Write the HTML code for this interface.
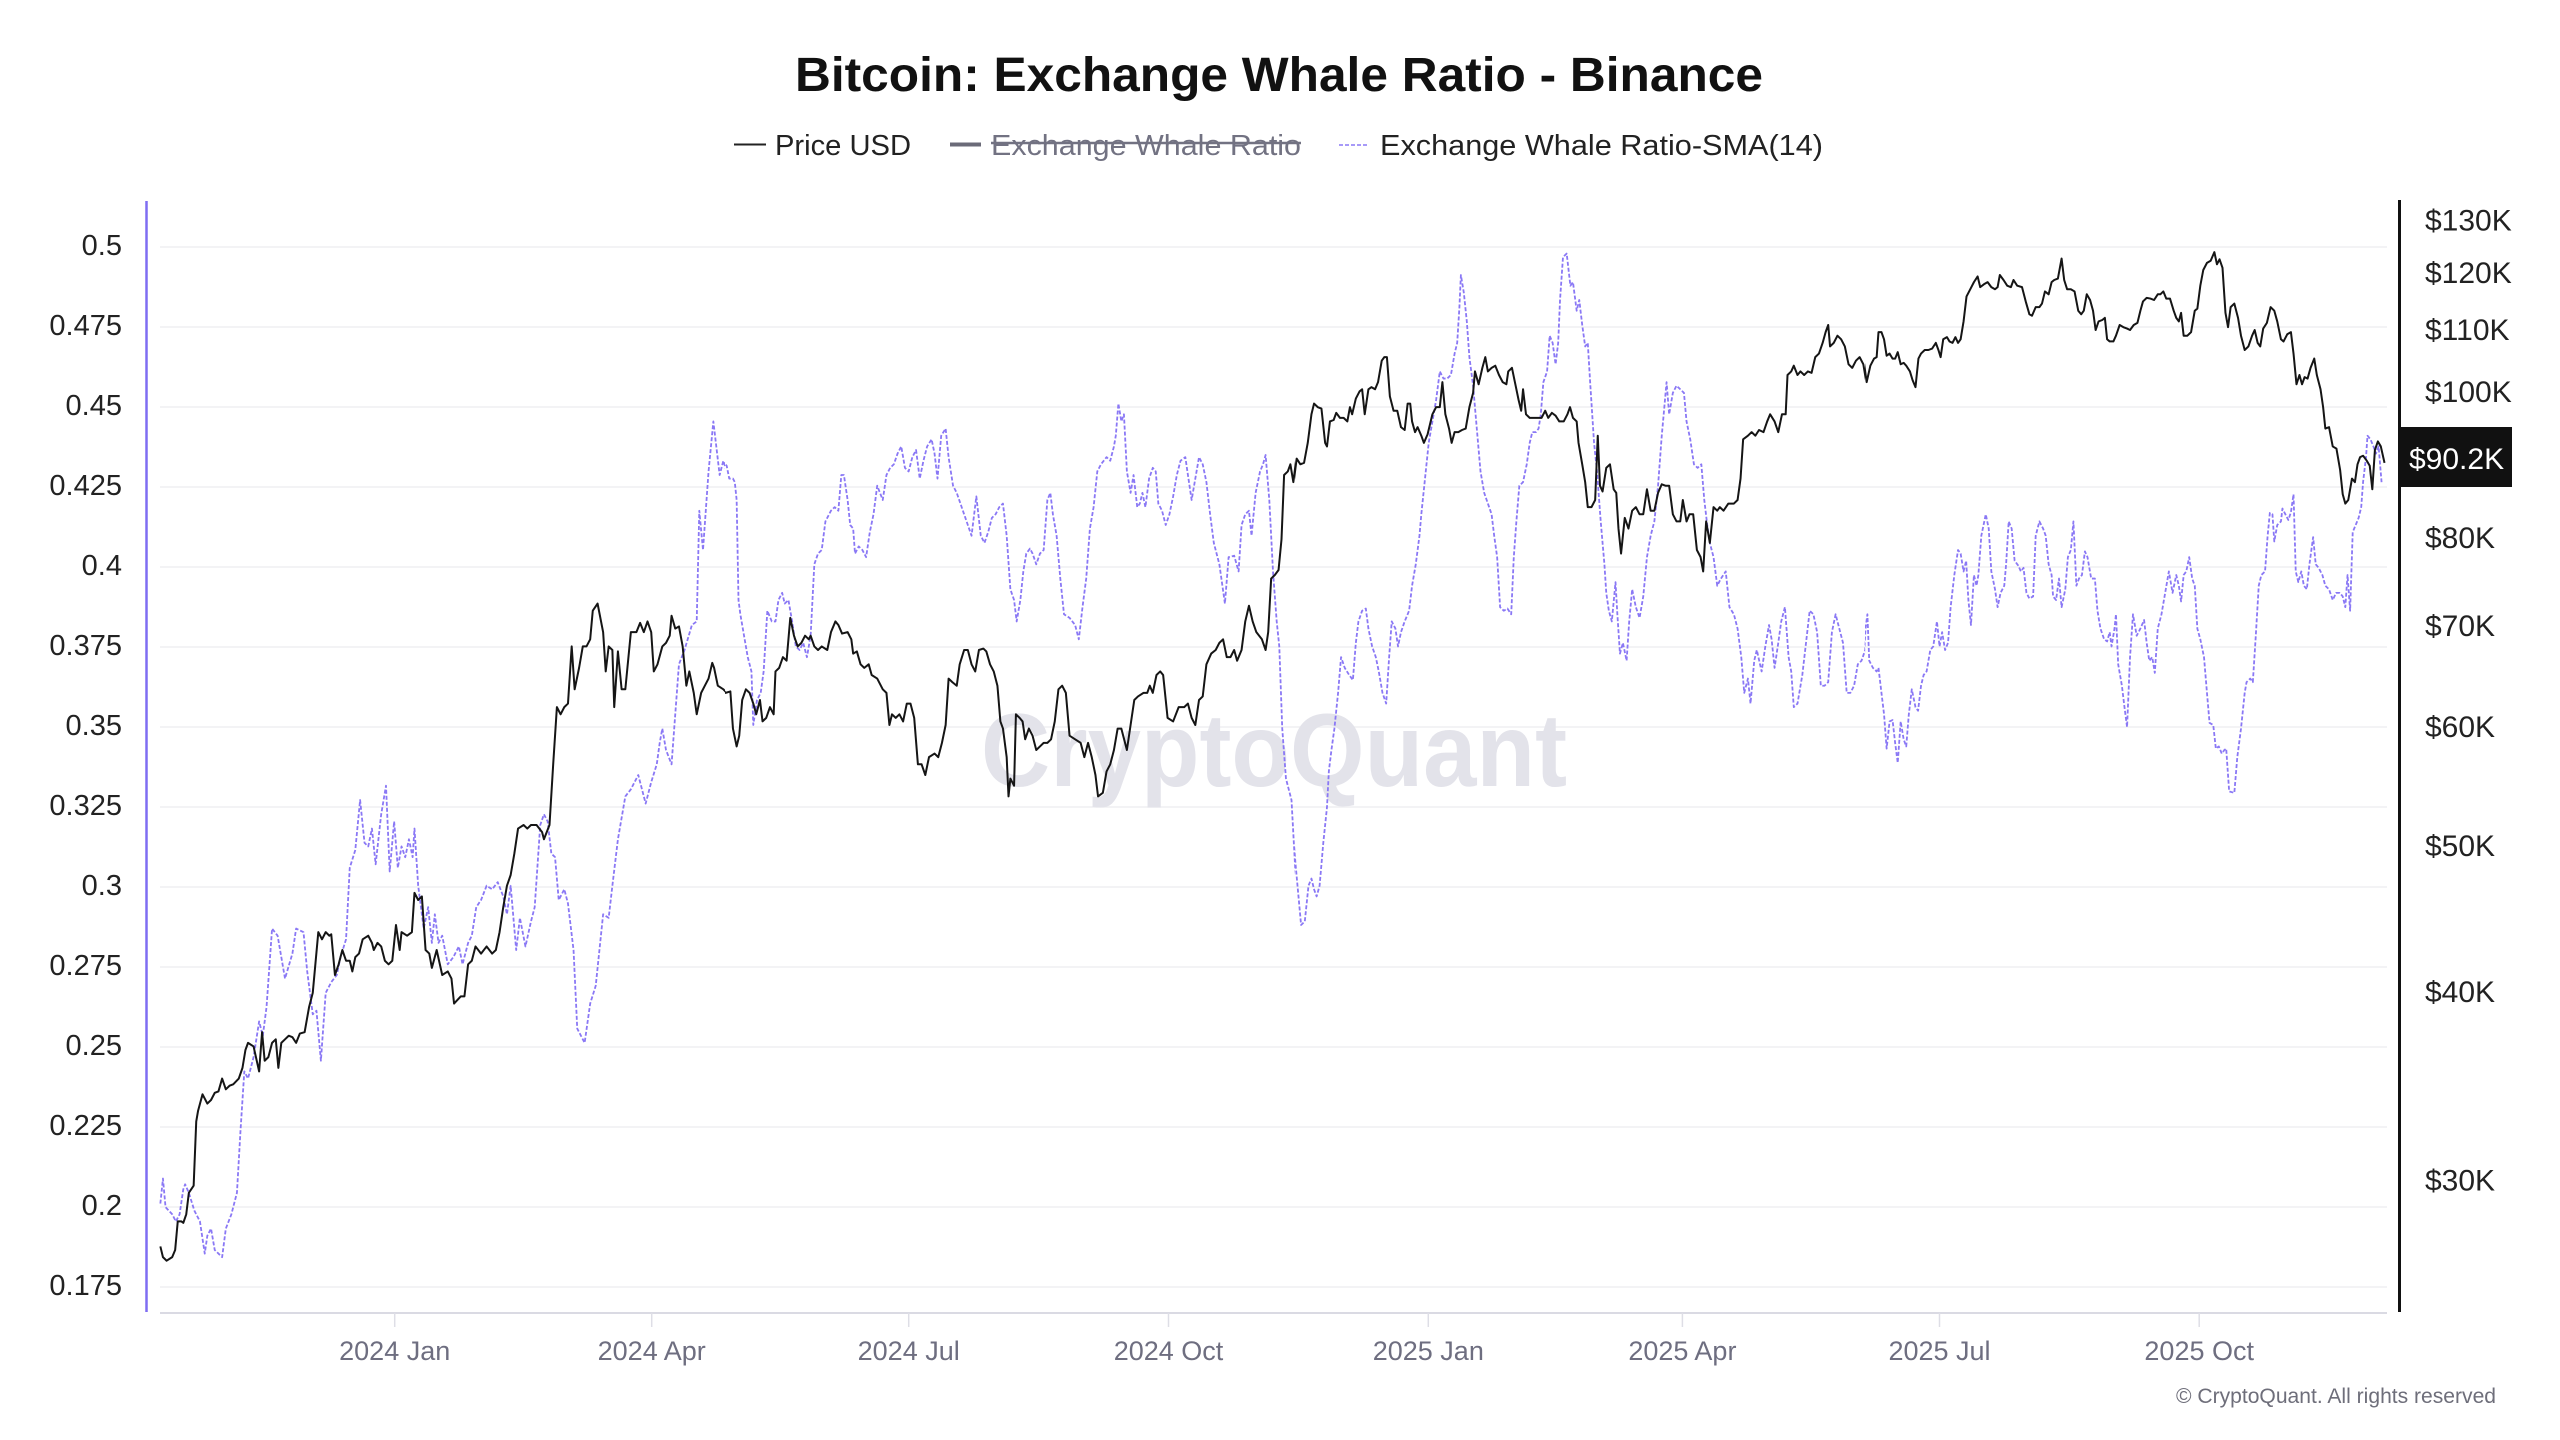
<!DOCTYPE html>
<html>
<head>
<meta charset="utf-8">
<style>
  html, body { margin: 0; padding: 0; background: #ffffff; }
  svg { display: block; }
  text { font-family: "Liberation Sans", "DejaVu Sans", sans-serif; }
</style>
</head>
<body>
<svg width="2560" height="1440" viewBox="0 0 2560 1440" xmlns="http://www.w3.org/2000/svg">
  <rect x="0" y="0" width="2560" height="1440" fill="#ffffff"/>

  <!-- Title -->
  <text x="1279" y="91" text-anchor="middle" font-size="48" font-weight="bold" fill="#111111" textLength="968" lengthAdjust="spacingAndGlyphs">Bitcoin: Exchange Whale Ratio - Binance</text>

  <!-- Legend -->
  <line x1="734" y1="144.5" x2="766" y2="144.5" stroke="#222" stroke-width="2"/>
  <text x="775" y="155" font-size="29" fill="#222" textLength="136" lengthAdjust="spacingAndGlyphs">Price USD</text>
  <line x1="950" y1="144.5" x2="981" y2="144.5" stroke="#6b6b78" stroke-width="4"/>
  <text x="991" y="155" font-size="29" fill="#727282" textLength="310" lengthAdjust="spacingAndGlyphs">Exchange Whale Ratio</text>
  <line x1="991" y1="143" x2="1301" y2="143" stroke="#727282" stroke-width="2.5"/>
  <line x1="1339" y1="145" x2="1369" y2="145" stroke="#8a78f5" stroke-width="1.6" stroke-dasharray="4 2"/>
  <text x="1380" y="155" font-size="29" fill="#222" textLength="443" lengthAdjust="spacingAndGlyphs">Exchange Whale Ratio-SMA(14)</text>

  <!-- Gridlines -->
  <g stroke="#efeff2" stroke-width="1.6">
    <line x1="160" y1="247" x2="2387" y2="247"/>
    <line x1="160" y1="327" x2="2387" y2="327"/>
    <line x1="160" y1="407" x2="2387" y2="407"/>
    <line x1="160" y1="487" x2="2387" y2="487"/>
    <line x1="160" y1="567" x2="2387" y2="567"/>
    <line x1="160" y1="647" x2="2387" y2="647"/>
    <line x1="160" y1="727" x2="2387" y2="727"/>
    <line x1="160" y1="807" x2="2387" y2="807"/>
    <line x1="160" y1="887" x2="2387" y2="887"/>
    <line x1="160" y1="967" x2="2387" y2="967"/>
    <line x1="160" y1="1047" x2="2387" y2="1047"/>
    <line x1="160" y1="1127" x2="2387" y2="1127"/>
    <line x1="160" y1="1207" x2="2387" y2="1207"/>
    <line x1="160" y1="1287" x2="2387" y2="1287"/>
  </g>

  <!-- Watermark -->
  <text x="981" y="786" font-size="104" font-weight="bold" fill="#e3e3ea" textLength="586" lengthAdjust="spacingAndGlyphs">CryptoQuant</text>

  <!-- X axis -->
  <line x1="160" y1="1313" x2="2387" y2="1313" stroke="#dadae3" stroke-width="2"/>
  <g stroke="#dedee6" stroke-width="1.5">
    <line x1="394.7" y1="1313" x2="394.7" y2="1327"/>
    <line x1="651.7" y1="1313" x2="651.7" y2="1327"/>
    <line x1="908.7" y1="1313" x2="908.7" y2="1327"/>
    <line x1="1168.5" y1="1313" x2="1168.5" y2="1327"/>
    <line x1="1428.3" y1="1313" x2="1428.3" y2="1327"/>
    <line x1="1682.4" y1="1313" x2="1682.4" y2="1327"/>
    <line x1="1939.5" y1="1313" x2="1939.5" y2="1327"/>
    <line x1="2199.2" y1="1313" x2="2199.2" y2="1327"/>
  </g>
  <g font-size="27" fill="#6e6e80" text-anchor="middle">
    <text x="394.7" y="1360">2024 Jan</text>
    <text x="651.7" y="1360">2024 Apr</text>
    <text x="908.7" y="1360">2024 Jul</text>
    <text x="1168.5" y="1360">2024 Oct</text>
    <text x="1428.3" y="1360">2025 Jan</text>
    <text x="1682.4" y="1360">2025 Apr</text>
    <text x="1939.5" y="1360">2025 Jul</text>
    <text x="2199.2" y="1360">2025 Oct</text>
  </g>

  <!-- Left axis -->
  <line x1="146.5" y1="201" x2="146.5" y2="1312" stroke="#7f6df2" stroke-width="2.5"/>
  <g font-size="29" fill="#222" text-anchor="end">
    <text x="122" y="255">0.5</text>
    <text x="122" y="335">0.475</text>
    <text x="122" y="415">0.45</text>
    <text x="122" y="495">0.425</text>
    <text x="122" y="575">0.4</text>
    <text x="122" y="655">0.375</text>
    <text x="122" y="735">0.35</text>
    <text x="122" y="815">0.325</text>
    <text x="122" y="895">0.3</text>
    <text x="122" y="975">0.275</text>
    <text x="122" y="1055">0.25</text>
    <text x="122" y="1135">0.225</text>
    <text x="122" y="1215">0.2</text>
    <text x="122" y="1295">0.175</text>
  </g>

  <!-- Right axis -->
  <line x1="2399.5" y1="200" x2="2399.5" y2="1312" stroke="#111" stroke-width="3"/>
  <g font-size="30" fill="#222">
    <text x="2425" y="230.5">$130K</text>
    <text x="2425" y="283">$120K</text>
    <text x="2425" y="340">$110K</text>
    <text x="2425" y="402">$100K</text>
    <text x="2425" y="548">$80K</text>
    <text x="2425" y="636">$70K</text>
    <text x="2425" y="737">$60K</text>
    <text x="2425" y="856">$50K</text>
    <text x="2425" y="1002">$40K</text>
    <text x="2425" y="1190.5">$30K</text>
  </g>

  <defs>
    <clipPath id="c1"><rect x="150" y="150" width="575" height="1200"/></clipPath>
    <clipPath id="c2"><rect x="725" y="150" width="570" height="1200"/></clipPath>
    <clipPath id="c3"><rect x="1295" y="150" width="570" height="1200"/></clipPath>
    <clipPath id="c4"><rect x="1865" y="150" width="535" height="1200"/></clipPath>
  </defs>

  <!-- SMA series (purple dashed) -->
  <g fill="none" stroke="#8a78f5" stroke-width="1.8" stroke-dasharray="4 2" stroke-linejoin="round">
    <g clip-path="url(#c1)">
      <g transform="translate(150,200) scale(0.36990,0.71429)">
        <polyline vector-effect="non-scaling-stroke" points="28,1405 35,1370 42,1410 60,1420 70,1430 80,1420 90,1385 95,1378 105,1390 120,1415 135,1430 148,1475 155,1450 165,1440 175,1470 195,1480 205,1440 220,1420 235,1390 245,1300 255,1220 265,1230 280,1200 295,1150 305,1170 315,1130 330,1020 345,1030 365,1090 385,1055 395,1020 415,1025 425,1080 440,1140 450,1135 462,1205 475,1110 490,1095 505,1085 515,1060 530,1035 540,935 555,910 568,840 580,900 590,905 600,880 610,930 625,860 638,820 648,940 660,870 670,935 680,905 690,920 700,895 710,920 715,880 725,960 740,1020 752,990 762,1040 770,1000 780,1040 790,1030 805,1070 820,1060 835,1045 845,1070 860,1040 870,1030 882,990 895,980 910,960 925,965 940,955 955,975 965,1000 975,960 990,1050 1000,1005 1015,1045 1030,1010 1040,990 1055,875 1065,860 1075,870 1085,915 1095,920 1105,980 1120,965 1130,985 1145,1050 1155,1160 1175,1180 1190,1125 1205,1100 1215,1050 1225,1000 1240,1005 1250,960 1265,895 1285,835 1300,825 1320,805 1340,845 1355,815 1370,790 1378,760 1385,740 1395,770 1410,790 1420,720 1430,650 1445,630 1465,595 1478,590 1485,435 1495,490 1510,380 1523,310 1540,385 1550,365 1568,395"/>
      </g>
    </g>
    <g clip-path="url(#c2)">
      <g transform="translate(720,200) scale(0.36990,0.71429)">
        <polyline vector-effect="non-scaling-stroke" points="0,380 10,368 18,372 25,390 35,390 40,395 45,420 50,560 55,580 65,610 75,640 85,660 90,735 100,700 110,690 118,660 128,575 140,590 150,590 158,560 168,550 175,565 185,560 195,590 205,625 215,630 225,620 235,640 245,610 255,510 265,495 275,490 285,450 300,435 310,430 320,435 328,385 335,385 345,420 352,455 360,460 365,495 375,485 385,490 395,500 405,465 415,440 425,400 440,420 450,385 460,375 470,370 480,355 490,345 500,375 510,380 520,360 530,350 540,390 550,365 560,345 572,335 580,355 588,390 598,330 610,320 618,360 630,400 640,410 650,425 660,440 670,455 680,470 693,415 705,470 715,480 725,465 735,445 745,440 755,430 765,425 775,470 785,545 795,560 802,590 812,560 820,520 828,495 838,488 845,495 855,510 865,495 875,490 885,420 893,410 900,440 910,470 920,530 930,580 945,585 960,595 970,615 980,570 990,530 1000,460 1010,430 1020,380 1030,370 1045,360 1055,365 1065,345 1070,330 1077,285 1085,310 1092,300 1100,380 1110,410 1118,385 1128,430 1135,425 1142,410 1150,430 1160,390 1170,375 1178,380 1185,425 1195,435 1205,455 1215,440 1225,415 1235,385 1245,365 1258,360 1265,385 1275,420 1285,390 1295,360 1305,370 1315,395 1325,440 1335,480 1350,510 1365,565 1375,500 1390,498 1402,520 1410,455 1420,440 1430,435 1437,470 1448,410 1460,380 1468,370 1475,357 1485,420 1495,520 1505,590 1512,625 1520,740 1530,810 1545,840 1555,935 1568,1000"/>
      </g>
    </g>
    <g clip-path="url(#c3)">
      <g transform="translate(1290,200) scale(0.36990,0.71429)">
        <polyline vector-effect="non-scaling-stroke" points="0,830 15,930 30,1015 40,1010 50,960 58,950 65,965 72,975 80,960 90,900 100,850 105,800 112,770 120,740 130,690 138,640 148,655 160,665 170,672 178,620 185,590 195,575 205,572 212,600 222,625 232,640 240,660 250,690 260,705 268,640 275,590 285,600 292,625 300,605 310,590 322,575 330,540 340,510 350,470 355,440 365,390 375,340 385,310 395,280 405,240 415,250 425,250 435,245 445,215 452,200 458,150 462,105 470,130 478,170 485,220 495,260 505,320 515,380 525,410 535,425 545,440 552,470 560,500 568,570 578,575 588,572 598,580 605,500 612,450 620,400 630,395 640,370 648,340 655,325 665,325 672,320 678,300 685,255 695,240 702,190 710,200 718,230 725,200 730,140 738,80 748,75 758,120 765,115 775,155 782,140 790,175 798,205 805,200 812,260 822,340 830,380 840,450 850,510 855,550 862,575 870,590 880,535 885,580 892,635 900,620 910,645 917,590 925,545 935,570 945,585 955,555 965,500 975,470 985,450 995,400 1005,330 1012,290 1018,255 1025,300 1035,270 1045,260 1055,265 1065,270 1072,310 1082,335 1092,370 1102,375 1112,370 1120,420 1128,455 1135,480 1145,500 1155,540 1165,530 1178,520 1188,570 1200,580 1210,600 1220,640 1228,690 1238,670 1245,705 1255,645 1262,630 1275,660 1285,625 1295,595 1302,615 1310,655 1320,620 1328,590 1338,570 1348,640 1355,660 1362,710 1372,705 1385,665 1395,620 1405,575 1415,580 1425,605 1435,680 1445,680 1455,675 1465,605 1475,580 1485,600 1495,620 1505,690 1515,690 1525,680 1535,650 1545,645 1555,630 1560,585 1568,640"/>
      </g>
    </g>
    <g clip-path="url(#c4)">
      <g transform="translate(1860,200) scale(0.36990,0.71429)">
        <polyline vector-effect="non-scaling-stroke" points="0,645 10,645 15,600 20,580 25,645 35,655 45,660 50,655 58,690 65,720 72,768 80,730 88,728 95,760 102,788 110,730 118,755 125,765 132,720 140,685 150,710 157,715 165,680 172,665 180,660 190,630 198,625 208,590 215,625 222,605 230,630 238,620 245,570 255,525 265,490 272,495 280,520 287,505 293,560 300,595 308,525 315,540 320,525 328,470 340,440 348,460 355,520 365,545 372,570 380,550 390,540 395,510 402,450 410,460 418,505 428,512 435,520 442,515 450,550 458,558 468,555 475,470 485,450 495,460 502,470 510,510 518,525 522,555 530,560 538,530 545,570 555,545 562,500 570,490 577,450 585,540 592,530 600,525 608,492 615,500 625,530 635,530 642,575 650,600 660,615 668,618 675,605 680,625 688,600 692,580 698,650 708,680 715,710 722,738 730,640 738,580 748,610 758,600 768,588 775,620 782,645 790,640 797,662 805,600 815,580 825,550 835,520 845,550 855,525 862,540 868,562 875,525 882,520 890,500 898,530 905,540 912,600 920,615 930,640 938,690 945,732 955,735 962,768 970,765 978,775 985,770 990,768 998,828 1012,830 1020,780 1030,740 1040,690 1045,675 1055,670 1062,675 1070,610 1078,540 1085,525 1095,520 1102,470 1108,438 1115,440 1120,478 1128,455 1138,450 1142,432 1150,440 1158,448 1165,437 1172,412 1178,520 1185,535 1193,520 1200,540 1208,545 1215,510 1225,472 1232,510 1240,515 1250,525 1258,540 1268,545 1278,560 1287,550 1297,550 1305,555 1312,570 1318,525 1325,575 1332,465 1340,455 1348,445 1355,430 1360,395 1368,360 1372,330 1380,335 1388,345 1395,355 1402,345 1410,395"/>
      </g>
    </g>
  </g>

  <!-- Price series (black solid) -->
  <g fill="none" stroke="#151515" stroke-width="2" stroke-linejoin="round">
    <g clip-path="url(#c1)">
      <g transform="translate(150,200) scale(0.36990,0.71429)">
        <polyline vector-effect="non-scaling-stroke" points="28,1465 35,1480 45,1485 60,1480 68,1470 75,1430 85,1430 90,1432 98,1420 105,1390 118,1380 125,1290 130,1275 142,1252 155,1265 165,1260 175,1250 185,1248 195,1230 205,1245 215,1240 225,1238 240,1230 250,1215 258,1190 265,1180 280,1185 295,1220 303,1165 310,1205 320,1200 330,1180 340,1175 347,1215 355,1180 365,1175 375,1170 385,1172 395,1180 405,1167 418,1165 430,1130 440,1110 455,1025 465,1035 475,1025 485,1030 490,1028 500,1085 510,1070 520,1050 530,1065 540,1065 547,1080 555,1060 565,1055 575,1035 590,1030 600,1040 605,1050 615,1040 625,1045 635,1065 645,1070 655,1065 665,1015 675,1050 680,1025 695,1030 708,1025 715,970 725,980 735,975 745,1050 755,1055 762,1075 775,1050 790,1085 805,1080 815,1090 822,1125 840,1115 850,1115 860,1070 870,1065 880,1045 895,1055 910,1045 925,1055 935,1050 945,1025 955,990 965,960 975,945 985,915 995,880 1010,875 1020,880 1030,875 1045,875 1060,885 1065,895 1080,875 1090,790 1100,710 1110,720 1120,710 1130,705 1140,625 1148,685 1160,655 1170,625 1180,625 1190,615 1197,575 1210,565 1225,605 1232,660 1240,625 1250,630 1255,710 1265,632 1275,685 1285,685 1300,605 1315,605 1325,592 1335,605 1345,590 1355,605 1362,660 1372,650 1385,625 1395,620 1405,610 1410,582 1420,600 1430,597 1440,625 1450,680 1458,660 1470,690 1478,720 1490,690 1500,680 1510,670 1520,648 1525,655 1535,680 1550,685 1568,695"/>
      </g>
    </g>
    <g clip-path="url(#c2)">
      <g transform="translate(720,200) scale(0.36990,0.71429)">
        <polyline vector-effect="non-scaling-stroke" points="0,680 15,690 28,688 35,740 45,765 52,750 60,700 70,685 80,690 90,705 98,720 108,700 115,730 125,725 135,710 145,720 150,660 160,655 170,640 180,645 190,585 200,610 210,625 220,620 230,610 240,615 245,610 255,625 265,630 275,625 290,630 300,605 312,590 320,595 330,607 345,605 355,615 360,635 370,632 380,650 390,655 402,650 410,665 425,670 440,685 450,690 458,735 465,720 475,725 485,720 495,730 505,705 515,705 525,725 535,790 545,790 555,805 565,780 580,775 590,780 600,760 610,735 618,670 628,675 640,680 648,650 660,630 670,630 680,650 690,660 700,630 712,628 720,632 730,650 740,660 750,680 758,730 765,740 775,780 780,835 785,810 795,820 800,720 810,725 818,730 825,755 835,740 845,750 855,770 865,765 875,760 885,760 895,755 905,730 915,685 925,680 935,690 945,750 960,755 975,760 985,780 995,760 1005,780 1015,805 1022,835 1035,830 1045,800 1055,790 1065,770 1075,740 1085,740 1100,770 1110,735 1120,700 1130,695 1145,690 1155,690 1162,680 1170,690 1180,665 1190,660 1198,665 1210,725 1225,730 1240,710 1255,710 1265,705 1275,725 1285,735 1295,700 1305,695 1315,650 1328,635 1340,630 1350,620 1360,615 1370,640 1380,640 1390,630 1398,645 1410,630 1420,590 1430,568 1440,590 1450,605 1465,615 1475,630 1482,605 1490,530 1500,525 1510,518 1518,475 1525,385 1535,380 1542,370 1550,395 1558,362 1568,368"/>
      </g>
    </g>
    <g clip-path="url(#c3)">
      <g transform="translate(1290,200) scale(0.36990,0.71429)">
        <polyline vector-effect="non-scaling-stroke" points="0,365 10,395 18,362 28,370 38,368 48,340 58,300 65,285 75,290 85,292 95,340 100,345 108,310 118,308 125,298 135,305 145,305 155,310 162,290 168,300 178,278 188,268 195,265 202,300 212,265 220,262 230,265 238,255 248,225 255,220 262,220 270,275 280,295 290,295 300,318 310,322 318,285 325,285 330,310 338,325 345,318 355,330 362,340 372,328 385,300 395,290 405,290 412,255 420,300 430,320 437,340 445,325 455,325 465,322 475,320 485,290 495,270 500,240 510,258 520,235 528,220 535,240 545,235 555,232 565,245 575,255 585,258 590,240 600,235 610,260 618,280 625,295 630,265 638,300 648,305 660,305 670,305 680,305 690,295 698,305 708,298 718,302 728,310 740,310 750,300 757,290 765,305 775,310 780,340 790,370 798,395 805,430 815,430 825,420 832,330 838,400 845,408 855,375 865,370 875,405 882,410 888,460 895,495 905,445 915,460 925,435 935,430 945,440 955,440 965,405 975,435 985,435 995,410 1005,398 1015,400 1025,400 1035,440 1045,450 1055,450 1062,420 1072,450 1080,440 1090,440 1100,490 1110,500 1117,520 1125,450 1135,480 1145,430 1155,435 1162,430 1172,435 1185,425 1200,425 1210,420 1218,390 1225,335 1238,330 1248,325 1258,330 1268,322 1280,325 1290,310 1298,300 1310,310 1320,325 1330,300 1340,300 1345,245 1355,240 1362,232 1372,245 1380,240 1390,245 1400,240 1410,242 1420,220 1430,215 1440,200 1448,185 1455,175 1460,205 1470,200 1480,190 1490,195 1500,205 1510,230 1520,235 1530,225 1540,220 1550,230 1558,255 1568,232"/>
      </g>
    </g>
    <g clip-path="url(#c4)">
      <g transform="translate(1860,200) scale(0.36990,0.71429)">
        <polyline vector-effect="non-scaling-stroke" points="0,220 10,225 18,255 28,232 38,222 45,220 50,185 58,185 65,195 72,218 80,215 88,222 95,222 102,213 110,230 118,228 125,232 135,240 142,252 150,262 158,222 165,215 175,210 185,210 195,208 205,200 212,210 218,220 225,195 235,192 242,198 250,200 258,192 265,200 272,195 280,170 288,135 298,125 308,115 318,107 325,122 335,118 345,115 355,122 365,125 372,122 378,105 388,112 398,120 408,122 415,112 425,120 438,122 448,142 458,160 465,162 475,150 485,150 492,145 500,128 510,132 518,115 525,112 535,110 545,82 552,112 560,125 570,125 580,128 590,155 598,160 605,155 613,132 622,140 630,155 637,182 645,170 655,168 662,165 668,195 675,198 685,198 692,190 702,175 712,178 722,180 730,182 740,175 750,172 758,155 765,142 775,137 785,138 795,140 805,132 812,132 820,128 828,138 838,138 848,155 855,165 862,170 868,158 875,190 885,190 895,185 905,155 912,152 920,120 928,98 938,88 948,85 958,73 965,90 972,83 980,95 988,158 995,178 1002,150 1012,145 1022,165 1030,190 1040,210 1050,205 1060,190 1067,182 1075,200 1082,205 1090,180 1100,172 1110,150 1120,155 1128,170 1138,195 1145,198 1155,188 1165,185 1172,215 1180,258 1188,245 1195,258 1202,248 1210,250 1218,235 1228,222 1235,245 1245,265 1252,290 1258,320 1268,318 1278,345 1288,348 1298,378 1305,412 1312,425 1320,420 1330,390 1338,395 1345,370 1352,360 1360,358 1370,365 1378,372 1385,405 1392,350 1400,338 1408,345 1418,368"/>
      </g>
    </g>
  </g>

  <!-- Current price tag -->
  <rect x="2401" y="427" width="111" height="60" fill="#111111"/>
  <text x="2409" y="469" font-size="30" fill="#ffffff">$90.2K</text>

  <!-- Copyright -->
  <text x="2496" y="1403" text-anchor="end" font-size="21" fill="#6e6e7a" textLength="320" lengthAdjust="spacingAndGlyphs">© CryptoQuant. All rights reserved</text>
</svg>
</body>
</html>
